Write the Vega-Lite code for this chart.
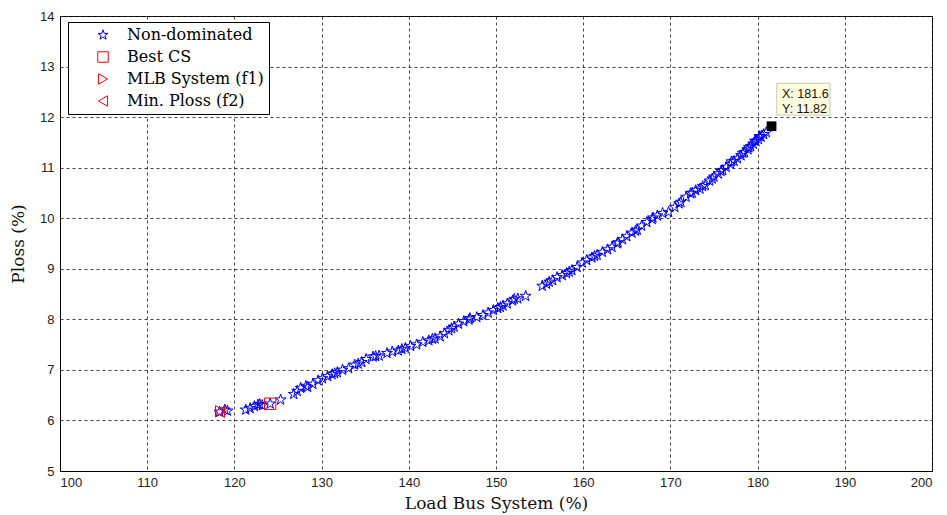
{
  "$schema": "https://vega.github.io/schema/vega-lite/v6.json",
  "width": 872,
  "height": 455,
  "autosize": {"type": "none"},
  "padding": {"left": 60, "top": 16, "right": 15, "bottom": 44},
  "background": "white",
  "config": {
    "view": {"stroke": "black", "strokeWidth": 1},
    "axis": {
      "grid": true,
      "gridColor": "#222222",
      "gridDash": [3, 3],
      "gridOpacity": 0.85,
      "domainColor": "black",
      "ticks": false,
      "labelFont": "Liberation Sans",
      "labelFontSize": 13,
      "labelColor": "#222222",
      "titleFont": "DejaVu Serif",
      "titleFontSize": 17,
      "titleFontWeight": "normal",
      "titleColor": "#111111"
    }
  },
  "datasets": {
    "pts": [
      {"load": 118.9, "ploss": 6.21, "series": "Non-dominated"},
      {"load": 119.2, "ploss": 6.19, "series": "Non-dominated"},
      {"load": 121.3, "ploss": 6.21, "series": "Non-dominated"},
      {"load": 121.8, "ploss": 6.24, "series": "Non-dominated"},
      {"load": 122.3, "ploss": 6.28, "series": "Non-dominated"},
      {"load": 122.7, "ploss": 6.31, "series": "Non-dominated"},
      {"load": 122.9, "ploss": 6.32, "series": "Non-dominated"},
      {"load": 123.2, "ploss": 6.3, "series": "Non-dominated"},
      {"load": 124.1, "ploss": 6.33, "series": "Non-dominated"},
      {"load": 125.3, "ploss": 6.41, "series": "Non-dominated"},
      {"load": 126.8, "ploss": 6.52, "series": "Non-dominated"},
      {"load": 127.2, "ploss": 6.58, "series": "Non-dominated"},
      {"load": 127.6, "ploss": 6.64, "series": "Non-dominated"},
      {"load": 128.2, "ploss": 6.68, "series": "Non-dominated"},
      {"load": 128.4, "ploss": 6.66, "series": "Non-dominated"},
      {"load": 129.0, "ploss": 6.72, "series": "Non-dominated"},
      {"load": 129.6, "ploss": 6.79, "series": "Non-dominated"},
      {"load": 130.1, "ploss": 6.83, "series": "Non-dominated"},
      {"load": 130.7, "ploss": 6.87, "series": "Non-dominated"},
      {"load": 131.2, "ploss": 6.91, "series": "Non-dominated"},
      {"load": 131.5, "ploss": 6.93, "series": "Non-dominated"},
      {"load": 131.8, "ploss": 6.95, "series": "Non-dominated"},
      {"load": 132.4, "ploss": 7.0, "series": "Non-dominated"},
      {"load": 133.1, "ploss": 7.03, "series": "Non-dominated"},
      {"load": 133.8, "ploss": 7.1, "series": "Non-dominated"},
      {"load": 134.2, "ploss": 7.12, "series": "Non-dominated"},
      {"load": 134.6, "ploss": 7.15, "series": "Non-dominated"},
      {"load": 135.1, "ploss": 7.21, "series": "Non-dominated"},
      {"load": 135.9, "ploss": 7.26, "series": "Non-dominated"},
      {"load": 136.2, "ploss": 7.27, "series": "Non-dominated"},
      {"load": 136.6, "ploss": 7.28, "series": "Non-dominated"},
      {"load": 137.5, "ploss": 7.33, "series": "Non-dominated"},
      {"load": 138.1, "ploss": 7.36, "series": "Non-dominated"},
      {"load": 138.8, "ploss": 7.38, "series": "Non-dominated"},
      {"load": 139.2, "ploss": 7.41, "series": "Non-dominated"},
      {"load": 139.6, "ploss": 7.43, "series": "Non-dominated"},
      {"load": 140.2, "ploss": 7.47, "series": "Non-dominated"},
      {"load": 140.9, "ploss": 7.5, "series": "Non-dominated"},
      {"load": 141.6, "ploss": 7.55, "series": "Non-dominated"},
      {"load": 142.3, "ploss": 7.58, "series": "Non-dominated"},
      {"load": 142.7, "ploss": 7.61, "series": "Non-dominated"},
      {"load": 143.0, "ploss": 7.62, "series": "Non-dominated"},
      {"load": 143.6, "ploss": 7.66, "series": "Non-dominated"},
      {"load": 144.1, "ploss": 7.72, "series": "Non-dominated"},
      {"load": 144.6, "ploss": 7.78, "series": "Non-dominated"},
      {"load": 144.9, "ploss": 7.82, "series": "Non-dominated"},
      {"load": 145.2, "ploss": 7.85, "series": "Non-dominated"},
      {"load": 145.7, "ploss": 7.91, "series": "Non-dominated"},
      {"load": 146.3, "ploss": 7.96, "series": "Non-dominated"},
      {"load": 146.9, "ploss": 7.99, "series": "Non-dominated"},
      {"load": 147.0, "ploss": 8.02, "series": "Non-dominated"},
      {"load": 147.8, "ploss": 8.04, "series": "Non-dominated"},
      {"load": 148.5, "ploss": 8.08, "series": "Non-dominated"},
      {"load": 149.1, "ploss": 8.13, "series": "Non-dominated"},
      {"load": 149.7, "ploss": 8.18, "series": "Non-dominated"},
      {"load": 150.2, "ploss": 8.22, "series": "Non-dominated"},
      {"load": 150.5, "ploss": 8.24, "series": "Non-dominated"},
      {"load": 150.8, "ploss": 8.27, "series": "Non-dominated"},
      {"load": 151.3, "ploss": 8.31, "series": "Non-dominated"},
      {"load": 151.9, "ploss": 8.37, "series": "Non-dominated"},
      {"load": 152.1, "ploss": 8.4, "series": "Non-dominated"},
      {"load": 152.5, "ploss": 8.41, "series": "Non-dominated"},
      {"load": 153.4, "ploss": 8.46, "series": "Non-dominated"},
      {"load": 155.3, "ploss": 8.66, "series": "Non-dominated"},
      {"load": 155.8, "ploss": 8.7, "series": "Non-dominated"},
      {"load": 156.1, "ploss": 8.74, "series": "Non-dominated"},
      {"load": 156.5, "ploss": 8.77, "series": "Non-dominated"},
      {"load": 157.0, "ploss": 8.83, "series": "Non-dominated"},
      {"load": 157.6, "ploss": 8.87, "series": "Non-dominated"},
      {"load": 158.1, "ploss": 8.91, "series": "Non-dominated"},
      {"load": 158.4, "ploss": 8.94, "series": "Non-dominated"},
      {"load": 158.7, "ploss": 8.97, "series": "Non-dominated"},
      {"load": 159.3, "ploss": 9.03, "series": "Non-dominated"},
      {"load": 159.9, "ploss": 9.12, "series": "Non-dominated"},
      {"load": 160.4, "ploss": 9.17, "series": "Non-dominated"},
      {"load": 161.0, "ploss": 9.22, "series": "Non-dominated"},
      {"load": 161.3, "ploss": 9.25, "series": "Non-dominated"},
      {"load": 161.6, "ploss": 9.27, "series": "Non-dominated"},
      {"load": 162.2, "ploss": 9.33, "series": "Non-dominated"},
      {"load": 162.8, "ploss": 9.38, "series": "Non-dominated"},
      {"load": 163.3, "ploss": 9.43, "series": "Non-dominated"},
      {"load": 163.9, "ploss": 9.5, "series": "Non-dominated"},
      {"load": 164.0, "ploss": 9.52, "series": "Non-dominated"},
      {"load": 164.5, "ploss": 9.58, "series": "Non-dominated"},
      {"load": 165.0, "ploss": 9.64, "series": "Non-dominated"},
      {"load": 165.6, "ploss": 9.71, "series": "Non-dominated"},
      {"load": 166.0, "ploss": 9.75, "series": "Non-dominated"},
      {"load": 166.2, "ploss": 9.77, "series": "Non-dominated"},
      {"load": 166.7, "ploss": 9.85, "series": "Non-dominated"},
      {"load": 167.3, "ploss": 9.92, "series": "Non-dominated"},
      {"load": 167.9, "ploss": 9.98, "series": "Non-dominated"},
      {"load": 168.0, "ploss": 10.01, "series": "Non-dominated"},
      {"load": 168.5, "ploss": 10.05, "series": "Non-dominated"},
      {"load": 169.1, "ploss": 10.1, "series": "Non-dominated"},
      {"load": 169.8, "ploss": 10.12, "series": "Non-dominated"},
      {"load": 170.5, "ploss": 10.22, "series": "Non-dominated"},
      {"load": 171.0, "ploss": 10.29, "series": "Non-dominated"},
      {"load": 171.2, "ploss": 10.32, "series": "Non-dominated"},
      {"load": 171.8, "ploss": 10.42, "series": "Non-dominated"},
      {"load": 172.3, "ploss": 10.49, "series": "Non-dominated"},
      {"load": 172.5, "ploss": 10.5, "series": "Non-dominated"},
      {"load": 172.9, "ploss": 10.55, "series": "Non-dominated"},
      {"load": 173.4, "ploss": 10.58, "series": "Non-dominated"},
      {"load": 173.7, "ploss": 10.63, "series": "Non-dominated"},
      {"load": 174.0, "ploss": 10.65, "series": "Non-dominated"},
      {"load": 174.5, "ploss": 10.74, "series": "Non-dominated"},
      {"load": 174.8, "ploss": 10.78, "series": "Non-dominated"},
      {"load": 175.0, "ploss": 10.82, "series": "Non-dominated"},
      {"load": 175.5, "ploss": 10.88, "series": "Non-dominated"},
      {"load": 175.8, "ploss": 10.93, "series": "Non-dominated"},
      {"load": 176.0, "ploss": 10.95, "series": "Non-dominated"},
      {"load": 176.4, "ploss": 11.01, "series": "Non-dominated"},
      {"load": 176.9, "ploss": 11.07, "series": "Non-dominated"},
      {"load": 177.0, "ploss": 11.12, "series": "Non-dominated"},
      {"load": 177.3, "ploss": 11.13, "series": "Non-dominated"},
      {"load": 177.7, "ploss": 11.18, "series": "Non-dominated"},
      {"load": 178.1, "ploss": 11.24, "series": "Non-dominated"},
      {"load": 178.3, "ploss": 11.29, "series": "Non-dominated"},
      {"load": 178.5, "ploss": 11.3, "series": "Non-dominated"},
      {"load": 178.9, "ploss": 11.36, "series": "Non-dominated"},
      {"load": 179.0, "ploss": 11.4, "series": "Non-dominated"},
      {"load": 179.2, "ploss": 11.42, "series": "Non-dominated"},
      {"load": 179.5, "ploss": 11.47, "series": "Non-dominated"},
      {"load": 179.7, "ploss": 11.53, "series": "Non-dominated"},
      {"load": 179.8, "ploss": 11.52, "series": "Non-dominated"},
      {"load": 180.1, "ploss": 11.56, "series": "Non-dominated"},
      {"load": 180.2, "ploss": 11.62, "series": "Non-dominated"},
      {"load": 180.4, "ploss": 11.61, "series": "Non-dominated"},
      {"load": 180.7, "ploss": 11.66, "series": "Non-dominated"},
      {"load": 181.0, "ploss": 11.7, "series": "Non-dominated"},
      {"load": 118.3, "ploss": 6.17, "series": "Non-dominated"},
      {"load": 124.1, "ploss": 6.33, "series": "Best CS"},
      {"load": 118.4, "ploss": 6.18, "series": "MLB System (f1)"},
      {"load": 118.3, "ploss": 6.17, "series": "Min. Ploss (f2)"}
    ],
    "tip": [{"load": 181.6, "ploss": 11.82}]
  },
  "layer": [
    {
      "data": {"name": "pts"},
      "mark": {"type": "point", "filled": false, "strokeWidth": 1, "opacity": 1, "size": 130},
      "encoding": {
        "x": {"field": "load", "type": "quantitative", "title": "Load Bus System (%)",
              "scale": {"domain": [100, 200], "nice": false},
              "axis": {"values": [100,110,120,130,140,150,160,170,180,190,200], "labelPadding": 5, "titlePadding": 6}},
        "y": {"field": "ploss", "type": "quantitative", "title": "Ploss (%)",
              "scale": {"domain": [5, 14], "nice": false, "zero": false},
              "axis": {"values": [5,6,7,8,9,10,11,12,13,14], "labelPadding": 6, "titlePadding": 12}},
        "shape": {"field": "series", "type": "nominal",
                  "scale": {"domain": ["Non-dominated", "Best CS", "MLB System (f1)", "Min. Ploss (f2)"],
                            "range": ["M0,-1L0.2234,-0.3074L0.951,-0.309L0.3614,0.1174L0.588,0.809L0,0.38L-0.588,0.809L-0.3614,0.1174L-0.951,-0.309L-0.2234,-0.3074Z", "square", "triangle-right", "triangle-left"]},
                  "legend": {"title": null, "orient": "none", "legendX": 8, "legendY": 6,
                             "fillColor": "white", "strokeColor": "black", "padding": 5,
                             "labelFont": "DejaVu Serif", "labelFontSize": 16, "labelColor": "black",
                             "symbolOffset": 22, "labelOffset": 16, "rowPadding": 6,
                             "symbolSize": 110, "symbolStrokeWidth": 1}},
        "color": {"field": "series", "type": "nominal",
                  "scale": {"domain": ["Non-dominated", "Best CS", "MLB System (f1)", "Min. Ploss (f2)"],
                            "range": ["#0000FF", "#FF0000", "#FF0000", "#FF0000"]}}
      }
    },
    {
      "data": {"name": "tip"},
      "mark": {"type": "square", "filled": true, "color": "black", "opacity": 1, "size": 95},
      "encoding": {
        "x": {"field": "load", "type": "quantitative"},
        "y": {"field": "ploss", "type": "quantitative"}
      }
    },
    {
      "data": {"name": "tip"},
      "mark": {"type": "rect", "fill": "#FFFFE0", "stroke": "#C8C8B0", "strokeWidth": 1},
      "encoding": {
        "x": {"datum": 182.2, "type": "quantitative"},
        "x2": {"datum": 188.3},
        "y": {"datum": 12.04, "type": "quantitative"},
        "y2": {"datum": 12.67}
      }
    },
    {
      "data": {"name": "tip"},
      "mark": {"type": "text", "align": "left", "baseline": "middle", "font": "Liberation Sans", "fontSize": 12.5, "color": "#111111"},
      "encoding": {
        "x": {"datum": 182.8, "type": "quantitative"},
        "y": {"datum": 12.45, "type": "quantitative"},
        "text": {"value": "X: 181.6"}
      }
    },
    {
      "data": {"name": "tip"},
      "mark": {"type": "text", "align": "left", "baseline": "middle", "font": "Liberation Sans", "fontSize": 12.5, "color": "#111111"},
      "encoding": {
        "x": {"datum": 182.8, "type": "quantitative"},
        "y": {"datum": 12.16, "type": "quantitative"},
        "text": {"value": "Y: 11.82"}
      }
    }
  ]
}
